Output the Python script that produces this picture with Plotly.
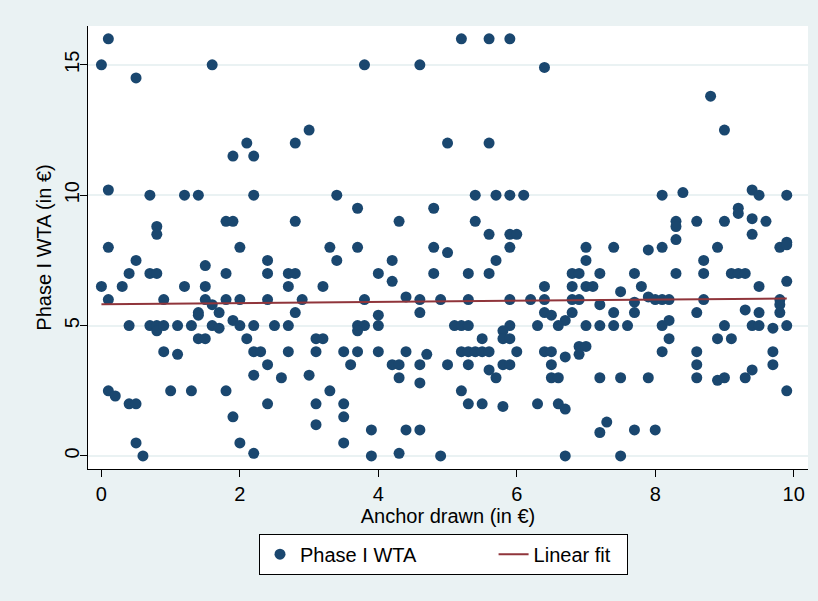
import numpy as np
import plotly.graph_objects as go

# Anchor drawn (in €) and Phase I WTA (in €)
anchor = [
    0.1, 0.0, 1.6, 0.5, 1.9, 0.1, 0.7, 1.2, 1.4, 0.8, 0.8, 1.8, 1.9, 0.1, 0.5, 0.4, 0.7, 0.8, 1.5, 1.8,
    0.0, 0.3, 1.2, 1.5, 0.1, 0.9, 1.5, 1.8, 1.6, 1.7, 1.4, 1.4, 1.9, 0.4, 0.7, 0.8, 0.8, 0.9, 1.1, 1.3,
    1.6, 1.7, 1.4, 1.5, 0.9, 1.1, 0.1, 0.2, 0.4, 0.5, 1.0, 1.3, 1.8, 1.9, 0.5, 0.6,
    2.1, 2.2, 2.8, 3.0, 3.8, 2.2, 3.4, 3.7, 2.8, 2.0, 3.3, 3.7, 2.4, 3.4, 2.4, 2.7, 2.8, 4.0, 2.7, 3.2,
    2.0, 2.4, 2.9, 3.8, 2.8, 2.0, 2.2, 2.5, 2.7, 3.7, 3.8, 3.7, 4.0, 4.0, 2.1, 2.2, 2.3, 2.7, 3.1, 3.5,
    3.7, 4.0, 3.1, 3.2, 2.4, 3.6, 2.2, 2.6, 3.0, 3.3, 2.4, 3.1, 3.5, 3.5, 3.1, 3.9, 2.0, 3.5, 2.2, 3.9,
    5.2, 5.6, 5.9, 4.6, 5.0, 5.6, 5.4, 5.7, 5.9, 6.1, 4.8, 4.3, 5.4, 5.6, 5.9, 6.0, 4.8, 5.0, 5.9, 4.2,
    5.7, 4.2, 4.8, 5.3, 5.6, 4.4, 4.6, 4.9, 5.3, 5.9, 4.6, 5.1, 5.2, 5.3, 5.9, 5.8, 5.8, 5.9, 5.5, 4.4,
    4.7, 5.2, 5.3, 5.4, 5.5, 5.6, 6.0, 4.2, 4.3, 4.6, 5.0, 5.3, 5.8, 5.9, 4.3, 5.6, 5.7, 4.6, 5.2, 5.3,
    5.5, 5.8, 4.4, 4.6, 4.3, 4.9,
    6.4, 8.1, 7.0, 7.4, 7.9, 8.1, 7.0, 6.8, 6.9, 7.2, 7.7, 6.4, 6.8, 7.0, 7.1, 7.8, 7.5, 6.2, 6.4, 6.8,
    6.9, 7.7, 7.9, 8.0, 8.1, 7.2, 6.4, 6.5, 6.8, 6.7, 7.4, 7.7, 6.3, 6.6, 7.0, 7.2, 7.4, 7.6, 8.1, 8.2,
    6.9, 7.0, 6.9, 6.4, 6.5, 6.7, 8.1, 6.5, 6.5, 6.6, 7.2, 7.5, 7.9, 6.3, 6.6, 6.7, 7.3, 7.2, 7.7, 8.0,
    6.7, 7.5,
    8.8, 9.0, 8.4, 9.4, 9.5, 9.9, 8.3, 8.3, 8.6, 9.0, 9.2, 9.2, 9.4, 9.6, 9.4, 8.3, 8.9, 9.8, 9.9, 9.9,
    8.7, 8.3, 8.7, 9.1, 9.2, 9.3, 9.5, 9.9, 8.2, 8.7, 9.8, 9.8, 9.8, 8.6, 9.3, 9.5, 8.2, 9.0, 9.4, 9.5,
    9.7, 9.9, 8.9, 9.1, 8.6, 9.7, 8.6, 9.7, 8.6, 8.9, 9.0, 9.3, 9.4, 9.9,
]
wta = [
    16.0, 15.0, 15.0, 14.5, 11.5, 10.2, 10.0, 10.0, 10.0, 8.8, 8.5, 9.0, 9.0, 8.0, 7.5, 7.0, 7.0, 7.0, 7.3, 7.0,
    6.5, 6.5, 6.5, 6.5, 6.0, 6.0, 6.0, 6.0, 5.8, 5.5, 5.5, 5.4, 5.2, 5.0, 5.0, 5.0, 4.8, 5.0, 5.0, 5.0,
    5.0, 4.9, 4.5, 4.5, 4.0, 3.9, 2.5, 2.3, 2.0, 2.0, 2.5, 2.5, 2.5, 1.5, 0.5, 0.0,
    12.0, 11.5, 12.0, 12.5, 15.0, 10.0, 10.0, 9.5, 9.0, 8.0, 8.0, 8.0, 7.5, 7.5, 7.0, 7.0, 7.0, 7.0, 6.5, 6.5,
    6.0, 6.0, 6.0, 6.0, 5.5, 5.0, 5.0, 5.0, 5.0, 5.0, 5.0, 4.8, 5.4, 5.0, 4.5, 4.0, 4.0, 4.0, 4.0, 4.0,
    4.0, 4.0, 4.5, 4.5, 3.5, 3.5, 3.1, 3.0, 3.1, 2.5, 2.0, 2.0, 2.0, 1.5, 1.2, 1.0, 0.5, 0.5, 0.1, 0.0,
    16.0, 16.0, 16.0, 15.0, 12.0, 12.0, 10.0, 10.0, 10.0, 10.0, 9.5, 9.0, 9.0, 8.5, 8.5, 8.5, 8.0, 7.8, 8.0, 7.5,
    7.5, 6.7, 7.0, 7.0, 7.0, 6.1, 6.0, 6.0, 6.0, 6.0, 5.5, 5.0, 5.0, 5.0, 5.0, 4.8, 4.5, 4.5, 4.5, 4.0,
    3.9, 4.0, 4.0, 4.0, 4.0, 4.0, 4.0, 3.5, 3.5, 3.5, 3.5, 3.5, 3.5, 3.5, 3.0, 3.3, 3.0, 2.8, 2.5, 2.0,
    2.0, 1.9, 1.0, 1.0, 0.1, 0.0,
    14.9, 10.0, 8.0, 8.0, 7.9, 8.0, 7.5, 7.0, 7.0, 7.0, 7.0, 6.5, 6.5, 6.5, 6.5, 6.5, 6.3, 6.0, 6.0, 6.0,
    6.0, 5.9, 6.1, 6.0, 6.0, 5.8, 5.5, 5.4, 5.5, 5.2, 5.5, 5.5, 5.0, 5.0, 5.0, 5.0, 5.0, 5.0, 5.0, 4.5,
    4.2, 4.2, 3.9, 4.0, 4.0, 3.8, 4.0, 3.5, 3.0, 3.0, 3.0, 3.0, 3.0, 2.0, 2.0, 1.8, 1.3, 0.9, 1.0, 1.0,
    0.0, 0.0,
    13.8, 12.5, 10.1, 10.2, 10.0, 10.0, 9.0, 8.8, 9.0, 9.0, 9.5, 9.3, 9.1, 9.0, 8.5, 8.3, 8.0, 8.0, 8.2, 8.1,
    7.5, 7.0, 7.0, 7.0, 7.0, 7.0, 6.5, 6.7, 6.0, 6.0, 6.0, 5.8, 5.5, 5.5, 5.6, 5.5, 5.2, 5.0, 5.0, 5.0,
    4.9, 5.0, 4.5, 4.5, 4.0, 4.0, 3.5, 3.5, 3.0, 2.9, 3.0, 3.0, 3.3, 2.5,
]

# Linear fit line (endpoints at the smallest and largest anchor)
fit_anchor = [0.0, 9.9]
fit_wta = [5.82, 6.04]

x_ticks = [0, 2, 4, 6, 8, 10]
y_ticks = [0, 5, 10, 15]

FONT = "Liberation Sans, Arial, sans-serif"
FS = 20
NAVY = "#1A476F"
MAROON = "#90353B"
BG = "#EAF2F3"
NB = "\u00a0"

fig = go.Figure()
fig.add_trace(go.Scatter(
    x=anchor, y=wta, mode="markers", name="Phase I WTA" + NB * 13,
    marker=dict(color=NAVY, size=11, line=dict(width=0)),
))
fig.add_trace(go.Scatter(
    x=fit_anchor, y=fit_wta, mode="lines", name="Linear fit" + NB * 2,
    line=dict(color=MAROON, width=2),
))

fig.update_layout(
    width=818, height=601,
    paper_bgcolor=BG, plot_bgcolor="white",
    margin=dict(l=88, r=10, t=26, b=132, pad=0, autoexpand=False),
    font=dict(family=FONT, size=FS, color="black"),
    showlegend=True,
    legend=dict(
        orientation="h", x=0.2375, xanchor="left", y=-0.146, yanchor="top",
        bgcolor="white", bordercolor="black", borderwidth=1,
        font=dict(family=FONT, size=FS, color="black"),
    ),
    xaxis=dict(
        range=[-0.194, 10.207], tickvals=x_ticks, ticks="outside", ticklen=7,
        tickcolor="black", tickwidth=1, showline=True, linecolor="black", linewidth=1,
        showgrid=False, zeroline=False, automargin=False,
        tickfont=dict(family=FONT, size=FS, color="black"),
        title=dict(text="Anchor drawn (in €)", font=dict(family=FONT, size=FS, color="black"), standoff=2),
    ),
    yaxis=dict(
        range=[-0.5, 16.49], tickvals=y_ticks, ticks="outside", ticklen=7,
        tickcolor="black", tickwidth=1, showline=True, linecolor="black", linewidth=1,
        showgrid=True, gridcolor=BG, gridwidth=1.5, zeroline=False, tickangle=-90, automargin=False,
        ticklabelstandoff=-7,
        tickfont=dict(family=FONT, size=FS, color="black"),
        title=dict(text="Phase I WTA (in €)", font=dict(family=FONT, size=FS, color="black"), standoff=4),
    ),
)

fig.write_html("out.html", config={"displayModeBar": False},
               post_script="document.body.style.margin='0';")
